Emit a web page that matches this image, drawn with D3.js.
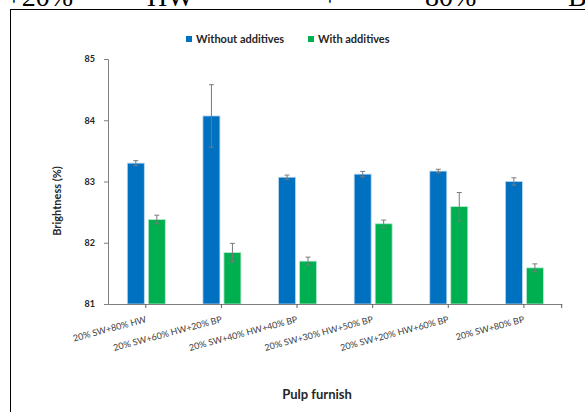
<!DOCTYPE html>
<html>
<head>
<meta charset="utf-8">
<script src="https://cdn.jsdelivr.net/npm/d3@7"></script>
<style>
  html, body { margin: 0; padding: 0; background: #fff; }
  svg { display: block; }
</style>
</head>
<body>
<svg id="chart" width="585" height="412"></svg>
<script>
// ---- data ----
const categories = [
  "20% SW+80% HW",
  "20% SW+60% HW+20% BP",
  "20% SW+40% HW+40% BP",
  "20% SW+30% HW+50% BP",
  "20% SW+20% HW+60% BP",
  "20% SW+80% BP"
];
const seriesNames = ["Without additives", "With additives"];
const withoutAdditives = [83.30, 84.07, 83.07, 83.12, 83.17, 83.00];
const withAdditives    = [82.38, 81.84, 81.70, 82.31, 82.59, 81.59];
const errWithout = [0.04, 0.51, 0.035, 0.045, 0.03, 0.06];
const errWith    = [0.07, 0.15, 0.065, 0.06, 0.23, 0.065];
const yTicks = [81, 82, 83, 84, 85];
const headerFragments = ["+20%", "HW", "+", "80%", "B"];

// ---- layout ----
const svg = d3.select("#chart");
const colors = ["#0070C0", "#00B050"];
const edgeColors = ["#bcd8f0", "#b8ead0"];

// cropped document text at the very top
const headerX = [6, 147, 322, 425, 568];
svg.append("g").selectAll("text").data(headerFragments).join("text")
  .attr("x", (d, i) => headerX[i]).attr("y", 6)
  .attr("font-family", "'Liberation Serif', 'DejaVu Serif', serif")
  .attr("font-size", 28).attr("fill", "#000")
  .text(d => d);

// chart frame
svg.append("rect")
  .attr("x", 10.5).attr("y", 9.5).attr("width", 620).attr("height", 430)
  .attr("fill", "#fff").attr("stroke", "#000").attr("stroke-width", 1);

const x = d3.scaleBand().domain(categories).range([108, 561.7]).paddingInner(0).paddingOuter(0);
const bw = x.bandwidth();
const x1 = d3.scaleBand().domain(seriesNames).range([bw / 2 - 18.5, bw / 2 + 19.5]).paddingInner(0.19);
const y = d3.scaleLinear().domain([81, 85]).range([304, 59]);

const font = "Lato, 'Open Sans', sans-serif";

// y axis
const yAxis = svg.append("g").attr("transform", "translate(108,0)")
  .call(d3.axisLeft(y).tickValues(yTicks).tickSize(4).tickPadding(9).tickFormat(d3.format("d")));
yAxis.select(".domain").attr("stroke", "#7f7f7f");
yAxis.selectAll(".tick line").attr("stroke", "#7f7f7f");
yAxis.selectAll(".tick text").attr("font-family", font).attr("font-size", 9)
  .attr("font-weight", "bold").attr("fill", "#262626");

// bars
const series = [withoutAdditives, withAdditives];
const errs = [errWithout, errWith];
const data = [];
categories.forEach((c, i) => {
  seriesNames.forEach((s, j) => {
    data.push({ cat: c, ser: s, j: j, v: series[j][i], e: errs[j][i] });
  });
});

const gBars = svg.append("g");
gBars.selectAll("rect").data(data).join("rect")
  .attr("x", d => x(d.cat) + x1(d.ser))
  .attr("y", d => y(d.v))
  .attr("width", x1.bandwidth())
  .attr("height", d => y(81) - y(d.v))
  .attr("fill", d => colors[d.j])
  .attr("stroke", d => edgeColors[d.j])
  .attr("stroke-width", 0.8);

// error bars
const gErr = svg.append("g").attr("stroke", "#7a7a7a").attr("stroke-width", 1).attr("fill", "none");
data.forEach(d => {
  const cx = x(d.cat) + x1(d.ser) + x1.bandwidth() / 2;
  const y0 = y(d.v - d.e), y1v = y(d.v + d.e);
  gErr.append("line").attr("x1", cx).attr("x2", cx).attr("y1", y0).attr("y2", y1v);
  gErr.append("line").attr("x1", cx - 2.5).attr("x2", cx + 2.5).attr("y1", y0).attr("y2", y0);
  gErr.append("line").attr("x1", cx - 2.5).attr("x2", cx + 2.5).attr("y1", y1v).attr("y2", y1v);
});

// x axis
const xAxisG = svg.append("g").attr("transform", `translate(0,${y(81)})`);
xAxisG.call(d3.axisBottom(x).tickSize(4).tickSizeOuter(0).tickFormat(""));
xAxisG.select(".domain").attr("stroke", "#7f7f7f");
xAxisG.selectAll(".tick line").attr("stroke", "#5f5f5f");
// end tick
xAxisG.append("line").attr("x1", x.range()[1]).attr("x2", x.range()[1]).attr("y1", 0).attr("y2", 4).attr("stroke", "#5f5f5f");

// rotated category labels
svg.append("g").selectAll("text").data(categories).join("text")
  .attr("transform", d => `translate(${x(d) + bw / 2 + 1},322) rotate(-15)`)
  .attr("text-anchor", "end")
  .attr("font-family", font).attr("font-size", 9).attr("fill", "#404040")
  .text(d => d);

// axis titles
svg.append("text")
  .attr("transform", "translate(61,201) rotate(-90)")
  .attr("text-anchor", "middle")
  .attr("font-family", font).attr("font-size", 11).attr("font-weight", "bold").attr("fill", "#262626")
  .text("Brightness (%)");

svg.append("text")
  .attr("x", 317).attr("y", 399)
  .attr("text-anchor", "middle")
  .attr("font-family", font).attr("font-size", 13).attr("font-weight", "bold").attr("fill", "#262626")
  .text("Pulp furnish");

// legend
const legendX = [186, 308];
const lg = svg.append("g").selectAll("g").data(seriesNames).join("g")
  .attr("transform", (d, i) => `translate(${legendX[i]},36)`);
lg.append("rect").attr("width", 6).attr("height", 6).attr("fill", (d, i) => colors[i]);
lg.append("text").attr("x", 10).attr("y", 6.5)
  .attr("font-family", font).attr("font-size", 11).attr("font-weight", "bold").attr("fill", "#262626")
  .text(d => d);
</script>
</body>
</html>
